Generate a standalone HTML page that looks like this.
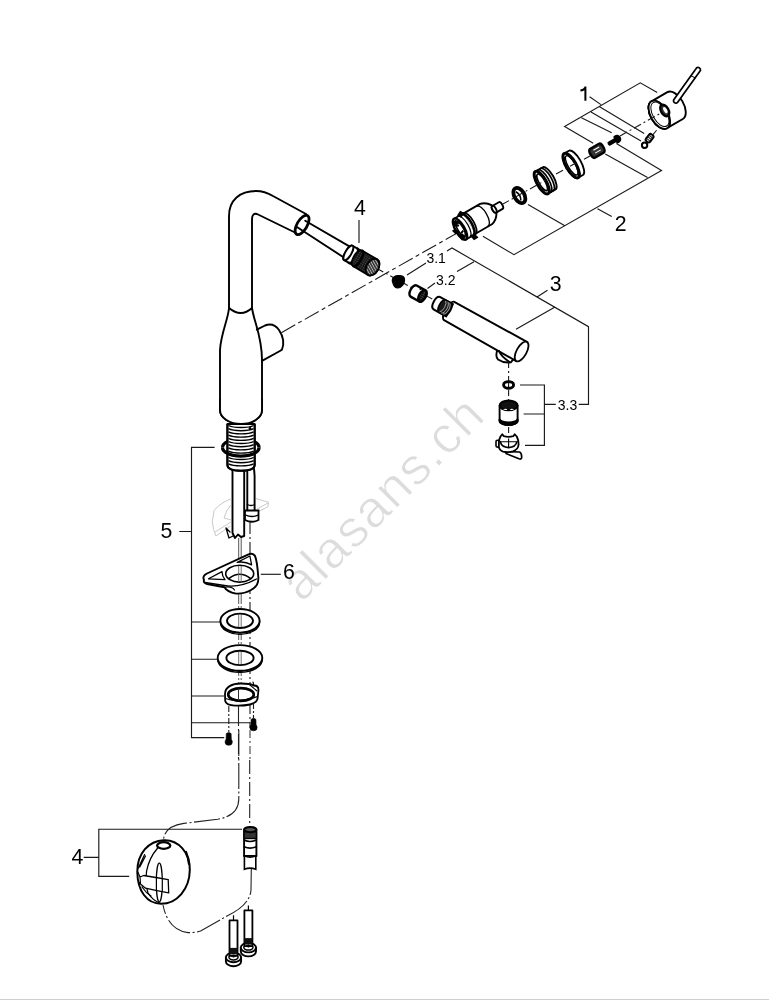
<!DOCTYPE html>
<html><head><meta charset="utf-8">
<style>
html,body{margin:0;padding:0;background:#fff;width:769px;height:1000px;overflow:hidden;}
svg{display:block;position:absolute;left:0;top:0;will-change:transform;}
.o{fill:none;stroke:#000;stroke-width:1.9;stroke-linejoin:round;stroke-linecap:round;}
.w{fill:#fff;stroke:#000;stroke-width:1.9;stroke-linejoin:round;}
.k{fill:#000;stroke:#000;stroke-width:1;stroke-linejoin:round;}
.g{fill:#3a3a3a;stroke:#000;stroke-width:1.4;}
.b{fill:none;stroke:#1a1a1a;stroke-width:1.15;}
.d{fill:none;stroke:#1a1a1a;stroke-width:1.1;stroke-dasharray:24 3 3 3;}
.s{fill:none;stroke:#1a1a1a;stroke-width:1.1;stroke-dasharray:6 3 2 3;}
.gh{fill:none;stroke:#c8c8c8;stroke-width:1;}
.t{font-family:"Liberation Sans",sans-serif;fill:#000;}
</style></head>
<body>
<svg width="769" height="1000" viewBox="0 0 769 1000">
<defs>
<pattern id="mesh" width="2.2" height="2.2" patternUnits="userSpaceOnUse"><rect width="2.2" height="2.2" fill="#111"/><rect x="0.3" y="0.3" width="0.8" height="0.8" fill="#999"/></pattern>
<pattern id="mesh2" width="2.4" height="2.4" patternUnits="userSpaceOnUse" patternTransform="rotate(30)"><rect width="2.4" height="2.4" fill="#333"/><rect x="0" y="0" width="2.4" height="0.9" fill="#bbb"/></pattern>
</defs>
<rect x="0" y="999" width="769" height="1" fill="#cfcfcf"/>
<text x="0" y="0" font-size="52.3" letter-spacing="1.3" stroke="#fff" stroke-width="0.9" style="fill:#dcdcdc;font-family:'Liberation Sans',sans-serif" transform="translate(301.8,603.4) rotate(-45)">alasans.ch</text><path class="d" d="M281.3,332.7 L462.5,230" style="stroke-dasharray:16 3.5 4 3.5"/><path class="s" d="M378,269 L434,300"/><g class="t" font-size="21.3">
<text x="614.8" y="231.2">2</text>
<text x="549.8" y="291.2">3</text>
<text x="354" y="215.3">4</text>
<text x="160.4" y="538">5</text>
<text x="283.1" y="579">6</text>
<text x="71.4" y="864">4</text>
</g>
<g class="t" font-size="14">
<text x="426.4" y="263">3.1</text>
<text x="436" y="284.5">3.2</text>
<text x="557.8" y="409.8">3.3</text>
</g><path d="M585.4,86.6 L585.4,100.8 M585.6,87.2 Q584,90.2 580.4,90.6" fill="none" stroke="#000" stroke-width="2"/><g class="b">
<path d="M589.6,96.8 L601,104.6 M657.2,92.5 L640.3,82.8 L564.6,126.4 L593.2,143.2 M581.4,117.8 L611.7,132.8 M591,111.9 L641,140.9 M599.6,106.8 L644.2,133.5"/>
<path d="M482.9,236.3 L514,254.7 L661.5,170.4 L616.4,143.6 M647.5,177.5 L605.3,154 M564.4,225.4 L528,204.4 M597.5,208.7 L611.7,216.5"/>
<path d="M447,251 L452,248 L588.5,326.7 L588.5,404.3 L578.7,404.3 M407,275 L426,263 M427.5,288.5 L435,283 M457,271.6 L474,261.8 M537,297 L547.5,290.2 M554.6,307.2 L516,329.3"/>
<path d="M520,385 L544.4,385 L544.4,445.4 L525,445.4 M523.6,414 L544.4,414 M544.4,404.3 L555.8,404.3"/>
<path d="M359,220 L359,243"/>
<path d="M214.6,447.4 L191.5,447.4 L191.5,737.6 L224.2,737.6 M191.5,622 L219.7,622 M191.5,659.2 L217,659.2 M191.5,696 L224,696 M191.5,722.7 L250,722.7 M179.3,531.5 L191.5,531.5"/>
<path d="M260.8,574.3 L280.8,574.3"/>
<path d="M242,829.2 L98.8,829.2 L98.8,876.4 L129.2,876.4 M83.7,857.3 L98.8,857.3"/>
</g><path d="M229,309 L229,216 C229,200 240,191 256,191 C262,191 268,193 273,196 L306,214 L296,233 L257,214 C254,213 252,215 252,219 L252,309 Z" fill="#fff"/><path class="o" d="M229,309 L229,216 C229,200 240,191 256,191 C262,191 268,193 273,196 L306,214 M296,233 L257,214 C254,213 252,215 252,219 L252,309"/><path class="w" d="M229,308 C228,320 221,333 220,350 L220,410 C220,418 230,424 241,424 C252,424 262,418 262,410 L262,360 C262,336 254,322 252,308 Q241,318 229,308 Z"/><path class="o" d="M256.8,329.6 L265,325.5 C270,323.5 275,324.5 279,330 C283,336 284.5,343 282,349.5 C281,350.5 280,351 279,351.5 L262,360.8"/><g transform="translate(301,225) rotate(30.5)"><ellipse cx="0.9" cy="-0.6" rx="5" ry="10.8" fill="#fff" stroke="none"/><path d="M-1,-5.8 L57,-6.2 L57,6.4 L-1,3.8 Z" fill="#fff"/><path class="o" d="M1.5,-5.8 L57,-6.2 M-2,3.8 L57,6.4"/><ellipse cx="0.9" cy="-0.6" rx="5" ry="10.8" fill="none" stroke="#000" stroke-width="2.8"/><path class="w" d="M55,-8.3 L66,-8.3 A3,8.3 0 0 1 66,8.3 L55,8.3 A3,8.3 0 0 1 55,-8.3 Z" /><ellipse cx="55" cy="0" rx="3" ry="8.3" class="w"/><path class="o" d="M60.5,-8.3 A3,8.3 0 0 1 60.5,8.3" style="stroke-width:2.4"/><path d="M65.5,-9 L83,-9 A6,9 0 0 1 83,9 L65.5,9 A4,9 0 0 1 65.5,-9 Z" fill="url(#mesh)" stroke="#000" stroke-width="1.8"/><path d="M65.5,-9 A4,9 0 0 1 65.5,9" fill="none" stroke="#000" stroke-width="2.6"/><ellipse cx="83" cy="0" rx="6" ry="9" fill="url(#mesh2)" stroke="#000" stroke-width="1.8"/></g><g transform="translate(443,239.6) rotate(-30)"><g transform="translate(0,-0.6)"><path class="w" d="M30,-11.8 L50,-11.8 Q56,-10.5 59.5,-4.5 L59.5,4.5 Q56,10.5 50,11.8 L30,11.8 Z"/><path class="o" d="M46,-11.3 A4.5,11.3 0 0 1 46,11.3" style="stroke-width:1.3"/><path class="w" d="M59.5,-3.8 L67,-3.8 A1.8,3.8 0 0 1 67,3.8 L59.5,3.8 A1.8,3.8 0 0 1 59.5,-3.8 Z" /><ellipse cx="59.5" cy="0" rx="1.8" ry="3.8" class="w"/><path class="w" d="M20,-12 L31,-12 L31,12 L20,12 Z" style="stroke:none"/><path class="o" d="M20,-12 L31,-12 A4.5,12 0 0 1 31,12 L20,12" style="stroke-width:1.8"/><path d="M28.5,-12 A4.5,12 0 0 1 28.5,12" fill="none" stroke="#000" stroke-width="2.6"/><path d="M24.5,-12 A4.5,12 0 0 1 24.5,12" fill="none" stroke="#000" stroke-width="1.2"/><ellipse cx="20" cy="0" rx="4.5" ry="12" fill="#fff" stroke="#000" stroke-width="2.4"/><ellipse cx="20.5" cy="0" rx="2.8" ry="8.5" fill="none" stroke="#000" stroke-width="1.6"/><path d="M16.5,-8 l4,-2 l1,4 l-4,1 Z M15.5,4.5 l4,1 l1,4 l-4,1 Z M25,-13 l4,-2 l2,3 l-4,2 Z M26,11 l4,1 l1,4 l-4,0 Z M13,-2 l3,0 l1,4 l-3,0 Z" fill="#000" stroke="#000" stroke-width="1.2"/><path d="M19,-4 L21,-4 M19,4 L22,3" stroke="#000" stroke-width="2"/></g><ellipse cx="88.2" cy="0" rx="5" ry="8.3" fill="#fff" stroke="#000" stroke-width="3.8"/><path d="M87,-5 Q90,0 87,5" fill="none" stroke="#000" stroke-width="1.6"/><path class="w" d="M114,-12.8 L122.5,-12.8 A4.6,12.8 0 0 1 122.5,12.8 L114,12.8 A4.6,12.8 0 0 1 114,-12.8 Z" /><ellipse cx="114" cy="0" rx="4.6" ry="12.8" class="w"/><path class="o" d="M117,-12.8 A4.6,12.8 0 0 1 117,12.8 M120,-12.8 A4.6,12.8 0 0 1 120,12.8" style="stroke-width:1.7"/><ellipse cx="114" cy="0" rx="4.6" ry="12.8" fill="#fff" stroke="#000" stroke-width="3"/><ellipse cx="114.5" cy="0" rx="3" ry="9.4" fill="#fff" stroke="#000" stroke-width="1.6"/><path d="M116,-7 A2.5,7 0 0 1 116,7" fill="none" stroke="#000" stroke-width="1.1"/><path class="w" d="M148,-14 L153.5,-14 A5,14 0 0 1 153.5,14 L148,14 A5,14 0 0 1 148,-14 Z" /><ellipse cx="148" cy="0" rx="5" ry="14" class="w"/><ellipse cx="148" cy="0" rx="5" ry="14" fill="#fff" stroke="#000" stroke-width="3"/><ellipse cx="148.6" cy="0" rx="3.6" ry="11" fill="none" stroke="#000" stroke-width="1.4"/><path d="M147.5,-10.5 A4.5,10.5 0 0 0 147.5,10.5" fill="none" stroke="#000" stroke-width="1.2"/><path d="M172.5,-5 L183,-5 A2.2,5 0 0 1 183,5 L172.5,5 A2.2,5 0 0 1 172.5,-5 Z" fill="#333" stroke="#000" stroke-width="2.4"/><path d="M175,-2.2 L181.5,-2.2 M175,1.2 L181.5,1.2" stroke="#fff" stroke-width="1.1"/><path class="k" d="M191.5,-1.6 L199,-1.6 L199.5,-3.6 Q204.5,-4 204.5,0 Q204.5,4 199.5,3.6 L199,1.6 L191.5,1.6 Q190.5,0 191.5,-1.6 Z" style="stroke-width:1.2"/><path class="w" d="M249.7,-15.5 L268,-15.5 A8.5,15.5 0 0 1 268,15.5 L249.7,15.5 A8.5,15.5 0 0 1 249.7,-15.5 Z" /><ellipse cx="249.7" cy="0" rx="8.5" ry="15.5" class="w"/><ellipse cx="249.7" cy="0" rx="8.5" ry="15.5" fill="#fff" stroke="#000" stroke-width="1.8"/><ellipse cx="250.5" cy="0" rx="7" ry="13.5" fill="none" stroke="#000" stroke-width="1"/><ellipse cx="256.6" cy="-1" rx="3.8" ry="6.4" fill="#333" stroke="#000" stroke-width="2.2"/><ellipse cx="257.3" cy="-1" rx="1.6" ry="3.4" fill="#fff"/></g><path class="d" d="M502,204.5 L546,180 M556,174 L576,163 M584,159.3 L590,156 M620,136 L661,113" style="stroke-dasharray:8 3 2 3"/><g transform="translate(675.8,100.8) rotate(-54.3)"><path class="w" d="M0,-2.3 L39,-2.3 A2.5,2.5 0 0 1 39,2.3 L0,2.3 A2.3,2.3 0 0 1 0,-2.3 Z" style="stroke-width:1.7"/><path class="o" d="M29,-2.3 L30,2.3" style="stroke-width:1"/></g><g transform="translate(649.6,138.2) rotate(-52)"><rect x="-4.3" y="-2.6" width="8.6" height="5.2" rx="2" fill="#fff" stroke="#000" stroke-width="2"/><path d="M-2,-1.8 L-2,1.8 M0,-1.8 L0,1.8 M2,-1.8 L2,1.8" stroke="#222" stroke-width="1.1"/></g><circle cx="644.6" cy="145.3" r="2.7" fill="#fff" stroke="#000" stroke-width="2"/><path class="s" d="M652.8,134.9 L657.5,129.2"/><g transform="translate(521.6,351.5) rotate(29)"><path class="w" d="M-22,10 Q-21,17 -16.8,18.4 Q-10,19 -4.2,14.7 L-3,9 Z"/><path class="w" d="M-83,-10.8 L0,-11 L0,11 L-83,10.2 A4,10.5 0 0 1 -83,-10.8 Z"/><path class="o" d="M-20,10.5 Q-16,14 -6,15"/><ellipse cx="0" cy="0" rx="5" ry="11" class="w" style="stroke-width:1.8"/><g transform="translate(0,-1.2)"><path class="w" d="M-97,-7 L-83,-7 L-83,7 L-97,7 Q-101,7 -101,0 Q-101,-7 -97,-7 Z" style="stroke-width:2"/><path d="M-91.5,-7 L-85,-7 A3,7 0 0 1 -85,7 L-91.5,7 A3,7 0 0 1 -91.5,-7 Z" fill="#1a1a1a" stroke="#000" stroke-width="1.6"/><path d="M-91,-6.2 A3,6.4 0 0 1 -91,6.2 M-89,-6.4 A3,6.4 0 0 1 -89,6.4 M-87,-6.4 A3,6.4 0 0 1 -87,6.4" fill="none" stroke="#ccc" stroke-width="0.7"/></g></g><path class="s" d="M508.6,362 L508.6,381 M508.6,390 L508.6,401 M508.6,427 L508.6,436"/><g transform="translate(418,293.5) rotate(29)"><path class="w" d="M-5,-6.3 L5,-6.3 A3.3,6.3 0 0 1 5,6.3 L-5,6.3 A3.3,6.3 0 0 1 -5,-6.3 Z" style="stroke-width:2.4"/><ellipse cx="5" cy="0" rx="3.3" ry="6.3" fill="url(#mesh)" stroke="#000" stroke-width="2.4"/><path d="M-1,-5 l2,0" stroke="#000" stroke-width="1.5"/></g><path class="k" d="M392.6,278.6 Q394,275.9 398,275.6 Q403.4,275.1 404.3,278.2 Q405.2,282 402.8,285 Q400,288.2 397.6,288 Q394.7,287.6 393.3,284.2 Q391.5,281 392.6,278.6 Z" style="stroke-width:1.2"/><ellipse cx="508.6" cy="384.9" rx="5" ry="3.3" fill="#fff" stroke="#000" stroke-width="2.9"/><path d="M508.6,383 L508.6,387" stroke="#000" stroke-width="1"/><path class="w" d="M499.6,405.5 L517.6,405.5 L517.6,421 A9,3.8 0 0 1 499.6,421 Z"/><ellipse cx="508.6" cy="405.4" rx="9" ry="4.9" fill="#111" stroke="#000" stroke-width="1.9"/><path d="M503,409.3 Q505.5,408 507.5,409.5 Q505.5,410.6 503,409.3 Z M509.7,409.5 Q511.7,408 514.2,409.3 Q511.7,410.6 509.7,409.5 Z" fill="#fff"/><path d="M499.6,418.8 A9,3.8 0 0 0 517.6,418.8 L517.6,421.2 A9,3.8 0 0 1 499.6,421.2 Z" fill="#111" stroke="#000" stroke-width="2"/><path class="w" d="M507,451.5 L519.5,452 Q522,453 521.6,458 Q521,459.5 519,458.8 L506,453.5 Z" style="stroke-width:1.7"/><path class="w" d="M500.5,436.5 L502.3,434.3 L503.8,436.2 Q508.5,437.6 513.3,436.2 L514.7,434.3 L516.8,436.5 Q518.6,440 518.6,444.5 Q518.2,449.5 513,451.3 Q508.5,452.7 503,451.6 Q498.8,450 498.5,445 Q498.4,440 500.5,436.5 Z" style="stroke-width:1.8"/><path class="o" d="M500.3,441.6 Q501.5,447.2 508.6,447.6 Q515.7,447.2 517,441.6" style="stroke-width:1.7"/><path d="M501,441.8 L516,441.8 M508.6,438.5 L508.6,447" stroke="#000" stroke-width="1.1"/><rect x="496" y="440.3" width="2.8" height="6.8" rx="1.3" fill="#fff" stroke="#000" stroke-width="1.6"/><path class="w" d="M232.5,462 L232.5,533 L235,538 L238,534.5 L241,537 L244.2,536 L244.2,462 Z"/><path class="w" d="M247.3,462 L252,462 Q254.6,468 254.6,476 L254.6,511 L247.3,511 Z"/><path d="M222.5,447.5 A18.3,8.6 0 0 1 259.1,447.5" fill="none" stroke="#000" stroke-width="3.2"/><path class="w" d="M227.4,424 L254.7,424 L254.7,465 Q254.5,470.8 241,470.8 Q227.6,470.8 227.4,465 Z"/><path d="M228.5,425.5 A14,3.6 0 0 0 253.6,425.5 M228.5,428.7 A14,3.6 0 0 0 253.6,428.7 M228.5,431.9 A14,3.6 0 0 0 253.6,431.9 M228.5,435.1 A14,3.6 0 0 0 253.6,435.1 M228.5,438.3 A14,3.6 0 0 0 253.6,438.3 M228.5,441.5 A14,3.6 0 0 0 253.6,441.5 M228.5,444.7 A14,3.6 0 0 0 253.6,444.7 M228.5,447.9 A14,3.6 0 0 0 253.6,447.9 M228.5,451.1 A14,3.6 0 0 0 253.6,451.1 M228.5,454.3 A14,3.6 0 0 0 253.6,454.3 M228.5,457.5 A14,3.6 0 0 0 253.6,457.5 M228.5,460.7 A14,3.6 0 0 0 253.6,460.7 M228.5,463.9 A14,3.6 0 0 0 253.6,463.9 " fill="none" stroke="#000" stroke-width="1.35"/><path d="M227.4,424 L227.4,465 Q227.6,470.8 241,470.8 Q254.5,470.8 254.7,465 L254.7,424" fill="none" stroke="#000" stroke-width="2"/><circle cx="250" cy="428.5" r="1.4" fill="#000"/><path d="M222.5,447.5 A18.3,8.6 0 0 0 259.1,447.5" fill="none" stroke="#000" stroke-width="3.2"/><path class="w" d="M220,400 L220,410 C220,418 230,424 241,424 C252,424 262,418 262,410 L262,400" style="stroke:none"/><path class="o" d="M220,400 L220,410 C220,418 230,424 241,424 C252,424 262,418 262,410 L262,400"/><path class="gh" d="M231.4,498.6 Q220,503 214.1,510.5 L212.3,521.4 Q213,530 215.9,536 L230.5,526 M256,498.6 L268.7,502.3 L267.8,506.8 L256.9,512.3 M231,505 Q226,510 224,518 L231,520 M215,532 L231,522 M268,503 L257,509"/><path class="o" d="M230,532 L226,528 L229,538 L233,536" style="stroke-width:1.3"/><path class="o" d="M247.3,504.5 Q251,506.5 254.6,504.5" style="stroke-width:1.3"/><path d="M245,510.5 L258.5,510.5 L258.5,520 Q252,523.5 245,520 Z" fill="#fff" stroke="#000" stroke-width="1.8"/><path d="M245.5,515 Q252,518 258,515" fill="none" stroke="#000" stroke-width="1.3"/><path d="M238.7,538 L238.7,690 M241.2,538 L241.2,690" fill="none" stroke="#555" stroke-width="1" style="stroke-dasharray:30 2 2 2"/><path class="s" d="M250,522 L250,728" style="stroke-dasharray:12 3 2 3"/><path class="w" d="M204,580 Q202,576 207,573.5 L248,554.6 Q253,552.5 255,556 Q257,560 258.3,577 Q259,586 251,590 Q244,594 236,593.6 Q227,592 224.5,587.3 L207,584 Q203,583 204,580 Z"/><path class="o" d="M205,582.5 L224.5,585.5 Q240,588 256.5,579" style="stroke-width:1.3"/><path class="o" d="M224.5,587.3 Q232,586 234.5,590" style="stroke-width:1.2"/><ellipse cx="239.7" cy="573.7" rx="14" ry="8.4" class="w" style="stroke-width:1.6"/><path class="o" d="M229,578.5 Q239.7,570 250.5,578.5" style="stroke-width:1.6"/><path class="o" d="M208.5,578.8 L222,571.6 Q222,576 225,579.7 Z M237.2,562.3 L249.9,556 L251.6,564.9 Q245,561 237.2,562.3 Z" style="stroke-width:1.3"/><path d="M238.7,566 L238.7,582 M241.2,566 L241.2,582" stroke="#666" stroke-width="0.9"/><path d="M220.4,620.8 A19.6,11.8 0 0 0 259.6,620.8 L259.6,622.4 A19.6,11.8 0 0 1 220.4,622.4 Z" fill="#fff" stroke="#000" stroke-width="1.4"/><ellipse cx="240" cy="620.8" rx="19.6" ry="11.8" class="w"/><ellipse cx="240" cy="620.8" rx="13" ry="7.2" fill="#fff" stroke="#000" stroke-width="1.9"/><path d="M238.7,614.5999999999999 L238.7,627.0 M241.2,614.5999999999999 L241.2,627.0" stroke="#666" stroke-width="0.9"/><path d="M217.7,657.9 A22.3,12.8 0 0 0 262.3,657.9 L262.3,659.5 A22.3,12.8 0 0 1 217.7,659.5 Z" fill="#fff" stroke="#000" stroke-width="1.4"/><ellipse cx="240" cy="657.9" rx="22.3" ry="12.8" class="w"/><ellipse cx="240" cy="657.9" rx="13.6" ry="7.2" fill="#fff" stroke="#000" stroke-width="1.9"/><path d="M238.7,651.6999999999999 L238.7,664.1 M241.2,651.6999999999999 L241.2,664.1" stroke="#666" stroke-width="0.9"/><path class="w" d="M225,694 C225,687 232,683.5 241,683.5 C247,683.5 251,684 254,685.5 Q258.5,685.5 258.5,690 L257.5,699 Q256.5,703 250,704.5 Q243,706 235,705.6 Q226,705 225.2,701 Z" style="stroke-width:1.8"/><ellipse cx="241" cy="694.5" rx="12.8" ry="6.4" fill="#fff" stroke="#000" stroke-width="2.6"/><path class="o" d="M225.4,698.5 Q238,703.5 257.5,696.5" style="stroke-width:1.3"/><path class="o" d="M253,682 L254,686 M250,685 L257,691" style="stroke-width:1.1"/><path d="M238.5,688.5 L238.5,700.5" stroke="#333" stroke-width="1"/><path class="s" d="M228.8,706 L228.8,732 M253.5,703 L253.5,718" style="stroke-dasharray:6 2 2 2"/><path d="M226.29999999999998,733.6 Q228.7,731.4 231.1,733.6 L231.29999999999998,739.3 Q232.29999999999998,740.3 232.29999999999998,742.3 Q232.29999999999998,745.3 228.7,745.3 Q225.1,745.3 225.1,742.3 Q225.1,740.3 226.1,739.3 Z" fill="#000" stroke="#000" stroke-width="0.6"/><path d="M251.1,719.4 Q253.5,717.1999999999999 255.9,719.4 L256.1,724.8 Q257.1,725.8 257.1,727.8 Q257.1,730.8 253.5,730.8 Q249.9,730.8 249.9,727.8 Q249.9,725.8 250.9,724.8 Z" fill="#000" stroke="#000" stroke-width="0.6"/><path d="M238.5,706 L238.5,760" stroke="#222" stroke-width="1.1" style="stroke-dasharray:20 3 2 3"/><path d="M250,730 L250,760" stroke="#444" stroke-width="1.1" style="stroke-dasharray:8 3 2 3"/><path d="M238.8,730 L238.8,799 Q238.5,816 217.6,819.2 L183.8,823.4 Q165,826 163.5,839.5 L163.5,843" fill="none" stroke="#222" stroke-width="1.1" style="stroke-dasharray:26 2.5 2 2.5"/><path d="M249.7,760 L249.7,827" fill="none" stroke="#222" stroke-width="1.1" style="stroke-dasharray:14 3 2 3"/><path d="M251.3,869 L251,890 Q250,905 227,916 L200.6,931 Q194,933 188,932.6 Q168,930 163,905" fill="none" stroke="#222" stroke-width="1.1" style="stroke-dasharray:26 2.5 2 2.5"/><path class="w" d="M244.1,829.4 L256.4,829.4 L256.4,856 L244.1,856 Z"/><path d="M244.4,856 L255.8,856 L255.8,869.3 Q250,867 244.4,869.3 Z" fill="#fff" stroke="#000" stroke-width="1.6"/><rect x="244.1" y="831.5" width="12.3" height="7" fill="#333" stroke="#000" stroke-width="1.4"/><ellipse cx="250.3" cy="829.6" rx="6.1" ry="2.6" fill="#555" stroke="#000" stroke-width="1.9"/><path class="o" d="M244.1,840 Q250,843 256.4,840 M244.1,846.8 Q250,849.5 256.4,846.8 M244.1,855.8 Q250,858.5 256.4,855.8" style="stroke-width:1.6"/><path class="w" d="M163.7,840.2 C178,839.5 190,852 189.8,870 C189.6,889 177,903.8 161,903.8 C147,903.8 137.5,891 137.3,872 C137.1,853 149,840.8 163.7,840.2 Z" style="stroke-width:2"/><ellipse cx="163.7" cy="845.5" rx="6.6" ry="3.3" fill="#fff" stroke="#000" stroke-width="2.3"/><path class="o" d="M157.5,848.2 Q149,858 146.6,871 Q145,884 148,893 Q153,901 161,903.5" style="stroke-width:1.3"/><path class="o" d="M138.2,868.2 L144.6,854.6 M139.8,867 L145.5,856" style="stroke-width:1.2"/><ellipse cx="159.3" cy="882.5" rx="3" ry="19.3" fill="#fff" stroke="#000" stroke-width="1.2"/><path d="M143.6,875.5 Q156,877.5 168.2,879.6 L168.7,892.8 Q157,891 145.5,888.2" fill="#fff" stroke="#000" stroke-width="1.3"/><path d="M156.4,878 L156.4,890 M162.3,879 L162.3,891" stroke="#000" stroke-width="1.2"/><path class="o" d="M137.8,872 L140,877 L140.5,884 L138.5,882 M140,877 L143.6,875.5 M140.5,884 L145.5,888.2 M142,887 Q146,893 151,896" style="stroke-width:1.2"/><path class="o" d="M186,852 Q188.5,858 189,864" style="stroke-width:2.2"/><path d="M233.5,915.3 L233.5,920.3" stroke="#000" stroke-width="1.2"/><path d="M225.9,957.4 L225.9,961.4 A7.6,4.8 0 0 0 241.1,961.4 L241.1,957.4 Z" fill="#fff" stroke="#000" stroke-width="1.9"/><ellipse cx="233.5" cy="957.4" rx="7.6" ry="4.8" fill="#fff" stroke="#000" stroke-width="1.9"/><ellipse cx="233.5" cy="957.1" rx="4.6" ry="2.8" fill="none" stroke="#000" stroke-width="1.5"/><rect x="229.5" y="920.3" width="8" height="35.60000000000002" class="w" style="stroke-width:1.8"/><rect x="229.5" y="947.9" width="8" height="6.5" fill="#111"/><path d="M231.0,955.9 L236.0,955.9 M233.5,954.4 L233.5,957.4" stroke="#000" stroke-width="1.6"/><path d="M248.4,905.4 L248.4,910.4" stroke="#000" stroke-width="1.2"/><path d="M240.8,947.6 L240.8,951.6 A7.6,4.8 0 0 0 256.0,951.6 L256.0,947.6 Z" fill="#fff" stroke="#000" stroke-width="1.9"/><ellipse cx="248.4" cy="947.6" rx="7.6" ry="4.8" fill="#fff" stroke="#000" stroke-width="1.9"/><ellipse cx="248.4" cy="947.3000000000001" rx="4.6" ry="2.8" fill="none" stroke="#000" stroke-width="1.5"/><rect x="244.4" y="910.4" width="8" height="35.700000000000045" class="w" style="stroke-width:1.8"/><rect x="244.4" y="938.1" width="8" height="6.5" fill="#111"/><path d="M245.9,946.1 L250.9,946.1 M248.4,944.6 L248.4,947.6" stroke="#000" stroke-width="1.6"/>
</svg>
</body></html>
